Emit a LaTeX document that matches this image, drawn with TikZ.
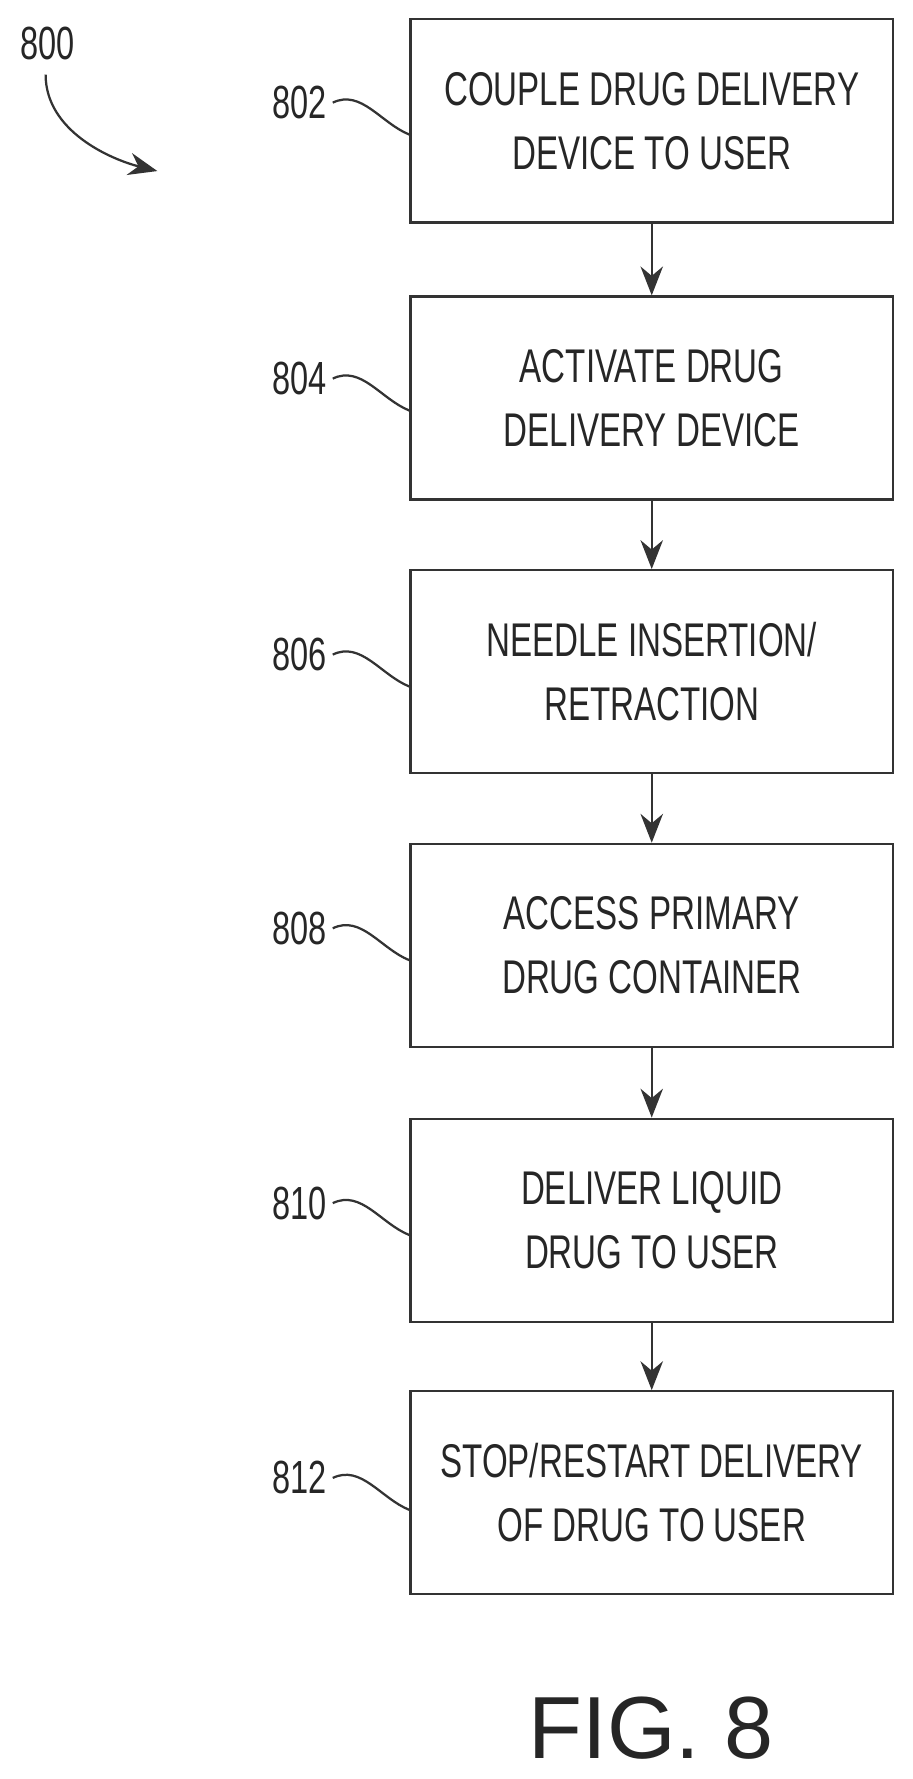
\documentclass[tikz,border=0pt]{standalone}
\usepackage{fontspec}
\setmainfont{Liberation Sans}
\newfontfamily\boxfont[FakeStretch=0.7]{Liberation Sans}
\usetikzlibrary{positioning,arrows.meta}

\begin{document}
\begin{tikzpicture}[x=0.025cm,y=-0.025cm,
  stepbox/.style={rectangle, draw=black!80, line width=1.4pt, minimum width=10.575cm,
    minimum height=4.45cm, align=center, font=\boxfont\fontsize{29.5}{40}\selectfont, text=black!85},
  ref/.style={font=\boxfont\fontsize{29}{30}\selectfont, text=black!85},
  flow/.style={-{Stealth[length=18pt,width=14pt]}, line width=1.4pt, draw=black!80},
  lead/.style={line width=1.4pt, draw=black!80}]

\useasboundingbox (0,0) rectangle (800,1560);

% process steps
\node[stepbox] (couple) at (571.5,106) {COUPLE DRUG DELIVERY\\DEVICE TO USER};
\node[stepbox] (activate) at (571.5,349) {ACTIVATE DRUG\\DELIVERY DEVICE};
\node[stepbox] (needle) at (571.5,589) {NEEDLE INSERTION/\\RETRACTION};
\node[stepbox] (access) at (571.5,829) {ACCESS PRIMARY\\DRUG CONTAINER};
\node[stepbox] (deliver) at (571.5,1070) {DELIVER LIQUID\\DRUG TO USER};
\node[stepbox] (stop) at (571.5,1309) {STOP/RESTART DELIVERY\\OF DRUG TO USER};

% arrows
\draw[flow] (couple.south) -- (activate.north);
\draw[flow] (activate.south) -- (needle.north);
\draw[flow] (needle.south) -- (access.north);
\draw[flow] (access.south) -- (deliver.north);
\draw[flow] (deliver.south) -- (stop.north);

% reference numerals
\foreach \n/\y/\b in {802/90/couple, 804/332/activate, 806/574/needle,
                      808/814/access, 810/1055/deliver, 812/1296/stop} {
  \node[ref] (r\n) at (263,\y) {\n};
  \draw[lead] (r\n.east) .. controls +(25,-12) and +(-25,-10) .. (\b.west |- 0,\y+28);
}

% figure numeral
\node[ref] (fig) at (42,38) {800};
\coordinate (figtip) at (138,150);
\draw[flow] (fig.south) ++(-2,8) .. controls +(0,50) and +(-40,-10) .. (figtip);

\node[font=\fontsize{55}{60}\selectfont, text=black!85] (caption) at (571,1515) {FIG. 8};
\end{tikzpicture}
\end{document}
